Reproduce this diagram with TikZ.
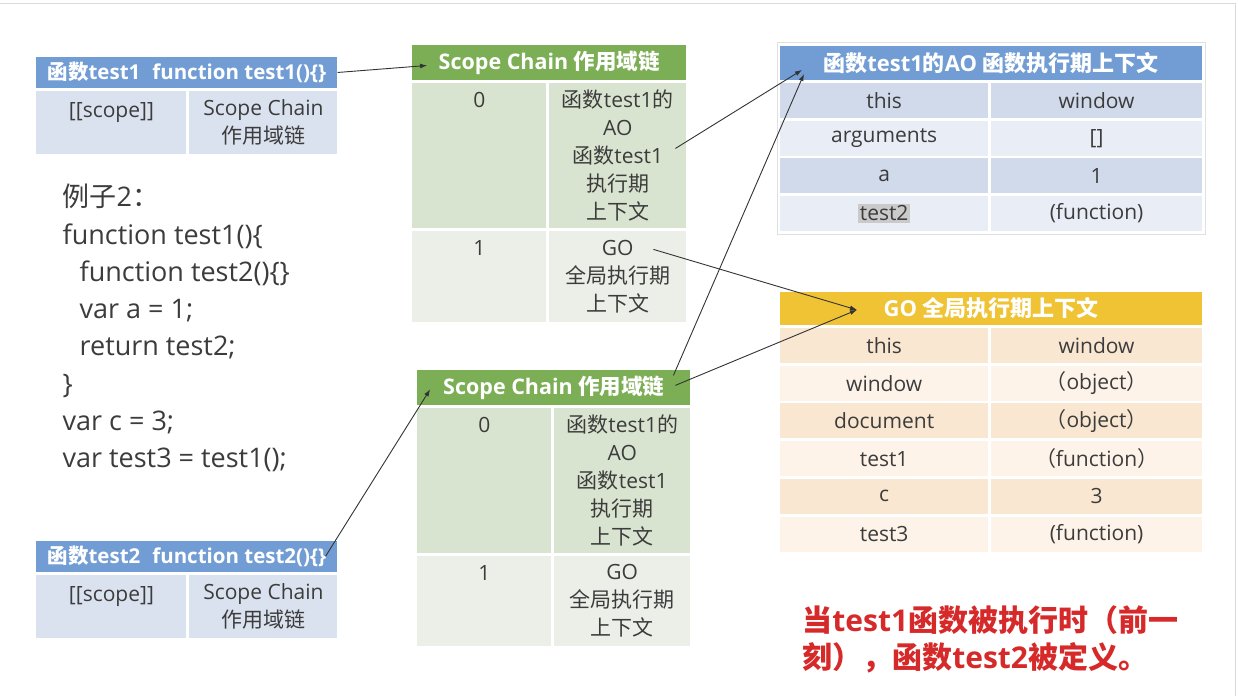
\documentclass[tikz,border=0pt]{standalone}
\usepackage{fontspec}
\setmainfont{Open Sans}
\newfontfamily\zhfont{Noto Sans CJK SC}
\newcommand{\zh}[1]{{\zhfont #1}}
\usepackage{tikz}
\usetikzlibrary{arrows.meta,positioning,calc,fit}
\definecolor{hdblue}{RGB}{113,157,212}
\definecolor{cellblue}{RGB}{219,226,239}
\definecolor{aodark}{RGB}{209,218,235}
\definecolor{aolight}{RGB}{233,237,246}
\definecolor{hdgreen}{RGB}{124,174,85}
\definecolor{gdark}{RGB}{217,228,208}
\definecolor{glight}{RGB}{235,239,232}
\definecolor{hdgold}{RGB}{239,195,52}
\definecolor{ydark}{RGB}{250,231,209}
\definecolor{ylight}{RGB}{253,243,233}
\definecolor{txtgray}{RGB}{60,60,60}
\definecolor{notered}{RGB}{214,42,42}
\definecolor{hlgray}{RGB}{202,202,202}

\begin{document}
\begin{tikzpicture}[x=1pt,y=-1pt,>={Latex[length=7pt,width=5pt]},
  hdr/.style={inner sep=0,text=white,font=\bfseries\fontsize{22}{26}\selectfont},
  cell/.style={inner sep=0,text=txtgray,align=center,font=\fontsize{21}{28}\selectfont},
  tag/.style={inner sep=0,text=txtgray,text height=15pt,text depth=4pt,font=\fontsize{21}{28}\selectfont},
  code/.style={inner sep=0,text=txtgray,align=left,font=\fontsize{27}{37.3}\selectfont},
  note/.style={inner sep=0,text=notered,align=left,font=\bfseries\fontsize{30}{37}\selectfont},
  link/.style={->,line width=0.9pt,draw=black!80}]
\fill[white] (0,0) rectangle (1238,696);
\draw[black!15,line width=1pt] (0,3) -- (1235,3) -- (1235,696);

\node[hdr,fill=hdblue,minimum width=301pt,minimum height=31pt,font=\bfseries\fontsize{20.5}{24}\selectfont] (t1h) at (186.5,72.5) {\zh{函数}test1\hspace{12pt}function test1()\{\}};
\node[cell,fill=cellblue,minimum width=150pt,minimum height=63pt] (t1a) at (111,122.5) {};
\node[cell,fill=cellblue,minimum width=148pt,minimum height=63pt] (t1b) at (263,122.5) {Scope Chain\\\zh{作用域链}};
\node[tag,below=12pt of t1a.north] {[[scope]]};

\node[code,anchor=north west] (code) at (62,184) {\zh{例子}2\zh{：}\\function test1()\{\\\hspace*{17pt}function test2()\{\}\\\hspace*{17pt}var a = 1;\\\hspace*{17pt}return test2;\\\}\\var c = 3;\\var test3 = test1();};

\node[hdr,fill=hdblue,minimum width=301pt,minimum height=31pt,font=\bfseries\fontsize{20.5}{24}\selectfont] (t2h) at (186.5,556.5) {\zh{函数}test2\hspace{12pt}function test2()\{\}};
\node[cell,fill=cellblue,minimum width=150pt,minimum height=63pt] (t2a) at (111,606.5) {};
\node[cell,fill=cellblue,minimum width=148pt,minimum height=63pt] (t2b) at (263,606.5) {Scope Chain\\\zh{作用域链}};
\node[tag,below=12pt of t2a.north] {[[scope]]};

\node[hdr,fill=hdgreen,minimum width=274pt,minimum height=35pt,font=\bfseries\fontsize{21.5}{26}\selectfont] (s1h) at (549,62.5) {Scope Chain \zh{作用域链}};
\node[cell,fill=gdark,minimum width=134pt,minimum height=145pt] (s1a0) at (479,155.5) {};
\node[cell,fill=gdark,minimum width=137pt,minimum height=145pt] (s1b0) at (617.5,155.5) {\zh{函数}test1\zh{的}\\AO\\\zh{函数}test1\\\zh{执行期}\\\zh{上下文}};
\node[cell,fill=glight,minimum width=134pt,minimum height=91pt] (s1a1) at (479,276.5) {};
\node[cell,fill=glight,minimum width=137pt,minimum height=91pt] (s1b1) at (617.5,276.5) {GO\\\zh{全局执行期}\\\zh{上下文}};
\node[tag,below=10pt of s1a0.north] {0};
\node[tag,below=10pt of s1a1.north] {1};

\node[hdr,fill=hdgreen,minimum width=273pt,minimum height=35pt,font=\bfseries\fontsize{21.5}{26}\selectfont] (s2h) at (553.5,387.5) {Scope Chain \zh{作用域链}};
\node[cell,fill=gdark,minimum width=134pt,minimum height=145pt] (s2a0) at (484,480.5) {};
\node[cell,fill=gdark,minimum width=136pt,minimum height=145pt] (s2b0) at (622,480.5) {\zh{函数}test1\zh{的}\\AO\\\zh{函数}test1\\\zh{执行期}\\\zh{上下文}};
\node[cell,fill=glight,minimum width=134pt,minimum height=90pt] (s2a1) at (484,601) {};
\node[cell,fill=glight,minimum width=136pt,minimum height=90pt] (s2b1) at (622,601) {GO\\\zh{全局执行期}\\\zh{上下文}};
\node[tag,below=10pt of s2a0.north] {0};
\node[tag,below=10pt of s2a1.north] {1};

\node[hdr,fill=hdblue,minimum width=422pt,minimum height=34pt] (aoh) at (991,63) {\zh{函数}test1\zh{的}AO \zh{函数执行期上下文}};
\node[cell,fill=aodark,minimum width=208pt,minimum height=35pt] (ao1a) at (884,101) {this};
\node[cell,fill=aodark,minimum width=211pt,minimum height=35pt] (ao1b) at (1096.5,101) {window};
\node[cell,fill=aolight,minimum width=208pt,minimum height=35pt] (ao2a) at (884,138.5) {arguments};
\node[cell,fill=aolight,minimum width=211pt,minimum height=35pt] (ao2b) at (1096.5,138.5) {[]};
\node[cell,fill=aodark,minimum width=208pt,minimum height=35pt] (ao3a) at (884,176) {a};
\node[cell,fill=aodark,minimum width=211pt,minimum height=35pt] (ao3b) at (1096.5,176) {1};
\node[cell,fill=aolight,minimum width=208pt,minimum height=35pt] (ao4a) at (884,213.5) {\setlength{\fboxsep}{2pt}\colorbox{hlgray}{test2}};
\node[cell,fill=aolight,minimum width=211pt,minimum height=35pt] (ao4b) at (1096.5,213.5) {(function)};
\node[draw=black!12,line width=0.8pt,inner sep=3pt,fit=(aoh)(ao4a)(ao4b)] (aosel) {};

\node[hdr,fill=hdgold,minimum width=422pt,minimum height=33pt] (goh) at (991,308.5) {GO \zh{全局执行期上下文}};
\node[cell,fill=ydark,minimum width=208pt,minimum height=35pt] (go1a) at (884,346) {this};
\node[cell,fill=ydark,minimum width=211pt,minimum height=35pt] (go1b) at (1096.5,346) {window};
\node[cell,fill=ylight,minimum width=208pt,minimum height=35pt] (go2a) at (884,383.5) {window};
\node[cell,fill=ylight,minimum width=211pt,minimum height=35pt] (go2b) at (1096.5,383.5) {\zh{（}object\zh{）}};
\node[cell,fill=ydark,minimum width=208pt,minimum height=35pt] (go3a) at (884,421) {document};
\node[cell,fill=ydark,minimum width=211pt,minimum height=35pt] (go3b) at (1096.5,421) {\zh{（}object\zh{）}};
\node[cell,fill=ylight,minimum width=208pt,minimum height=35pt] (go4a) at (884,459) {test1};
\node[cell,fill=ylight,minimum width=211pt,minimum height=35pt] (go4b) at (1096.5,459) {\zh{（}function\zh{）}};
\node[cell,fill=ydark,minimum width=208pt,minimum height=35pt] (go5a) at (884,496.5) {c};
\node[cell,fill=ydark,minimum width=211pt,minimum height=35pt] (go5b) at (1096.5,496.5) {3};
\node[cell,fill=ylight,minimum width=208pt,minimum height=35pt] (go6a) at (884,534.5) {test3};
\node[cell,fill=ylight,minimum width=211pt,minimum height=35pt] (go6b) at (1096.5,534.5) {(function)};

\node[note,anchor=north west] (note) at (802,606) {\zh{当}test1\zh{函数被执行时（前一}\\\zh{刻），函数}test2\zh{被定义。}};

\draw[link] (t1h.east) -- ($(s1h.west)+(15,3)$);
\draw[link] ($(s1b0.east)+(-11,-7)$) -- ($(aoh.west)+(22,7)$);
\draw[link] ($(s1b1.east)+(-33,-27)$) -- ($(goh.west)+(77,1.5)$);
\draw[link] ($(s2h.east)+(-17,-12)$) -- ($(aoh.west)+(24,11)$);
\draw[link] ($(s2h.east)+(-15,-2)$) -- ($(goh.west)+(77,1.5)$);
\draw[link] ($(t2h.east)+(-12,0)$) -- ($(s2h.west)+(13,2)$);
\end{tikzpicture}
\end{document}
